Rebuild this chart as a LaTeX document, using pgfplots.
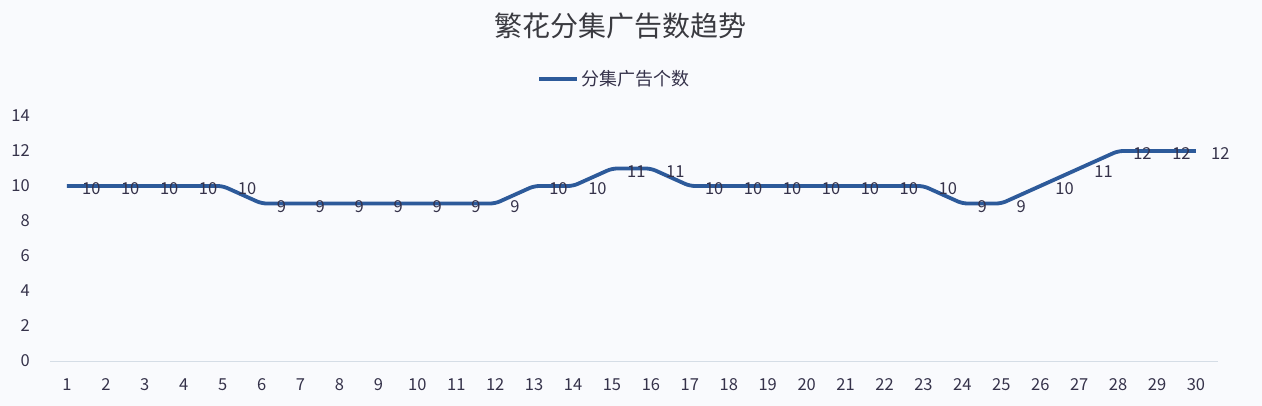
\documentclass[border=0pt]{standalone}
\usepackage{pgfplots}
\usepackage{pgfplotstable}
\pgfplotsset{compat=1.18}
\usepackage{fontspec}
\setmainfont{Noto Sans CJK SC}
\definecolor{bg}{HTML}{F9FAFD}
\definecolor{linec}{HTML}{2D5A9A}
\definecolor{txt}{HTML}{35324A}
\definecolor{titlec}{HTML}{3A3A40}
\definecolor{axc}{HTML}{D5DDE6}
\pgfkeys{/pgf/number format/assume math mode=true}
\pgfplotstableread{
ep ads
1 10
2 10
3 10
4 10
5 10
6 9
7 9
8 9
9 9
10 9
11 9
12 9
13 10
14 10
15 11
16 11
17 10
18 10
19 10
20 10
21 10
22 10
23 10
24 9
25 9
26 10
27 11
28 12
29 12
30 12
}\adsdata
\begin{document}
\begin{tikzpicture}[x=1pt,y=1pt]
\path[fill=bg, use as bounding box] (0,0) rectangle (1262,-406);
\node[font=\fontsize{28}{33}\selectfont, text=titlec, inner sep=0pt] at (620,-26) {繁花分集广告数趋势};
\begin{axis}[
  at={(50pt,-361pt)}, anchor=south west,
  scale only axis, width=1168pt, height=245pt,
  xmin=0.565, xmax=30.565, ymin=0, ymax=14,
  axis line style={draw=none},
  major tick length=0pt,
  xtick={1,...,30}, ytick={0,2,...,14},
  tick label style={font=\fontsize{16.5}{19}\selectfont, text=txt},
  x tick label style={anchor=base, inner sep=0pt, yshift=-29pt},
  y tick label style={anchor=east, inner sep=0pt, xshift=-20pt},
  legend style={at={(0.4833,1.151)}, anchor=center, draw=none, fill=none,
    font=\fontsize{18}{21}\selectfont, text=txt},
  legend image code/.code={\draw[#1, line width=4pt] (0pt,0pt) -- (38pt,0pt);},
  clip=false,
]
\draw[axc, line width=1pt] (rel axis cs:0,0) -- (rel axis cs:1,0);
\addplot[draw=none, forget plot, nodes near coords,
  nodes near coords style={anchor=west, inner sep=0pt, xshift=15pt, yshift=-3pt,
    font=\fontsize{16.5}{19}\selectfont, text=txt}]
  table[x=ep, y=ads] {\adsdata};
\addplot[linec, line width=3.8pt, rounded corners=5pt, mark=none]
  table[x=ep, y=ads] {\adsdata};
\addlegendentry{分集广告个数}
\end{axis}
\end{tikzpicture}
\end{document}
